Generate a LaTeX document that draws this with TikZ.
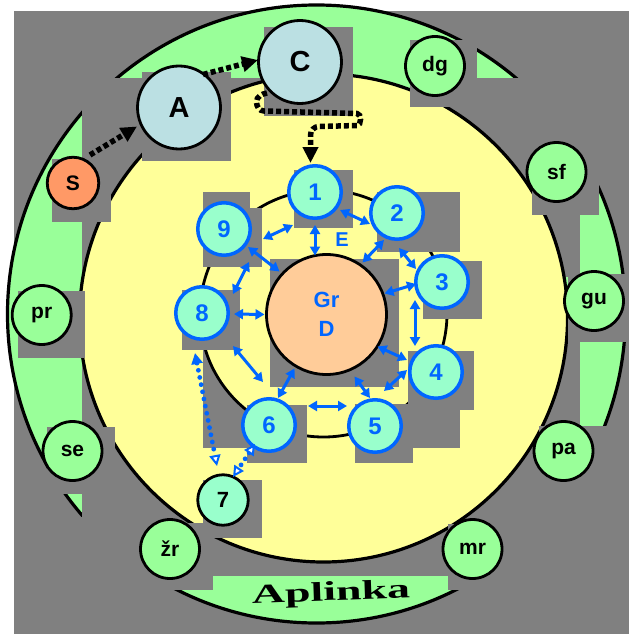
\documentclass[tikz,border=0pt]{standalone}
\usepackage{fontspec}
\setmainfont{Liberation Sans}
\newfontfamily\wideserif{Liberation Serif}
\usetikzlibrary{arrows.meta,calc}
\definecolor{bggray}{RGB}{128,128,128}
\definecolor{ringgreen}{RGB}{153,255,153}
\definecolor{paleyellow}{RGB}{255,255,153}
\definecolor{salmon}{RGB}{255,153,102}
\definecolor{paleblue}{RGB}{187,224,227}
\definecolor{peach}{RGB}{255,204,153}
\definecolor{aqua}{RGB}{153,255,204}
\definecolor{linkblue}{RGB}{0,102,255}
\tikzset{
  opentip/.tip={Triangle[open,length=11pt,width=11pt,fill=white,line width=2pt]},
  solidtip/.tip={Triangle[length=11pt,width=11pt]},
  shadowbox/.style={fill=bggray},
  envnode/.style={circle, draw=black, line width=2.8pt, fill=ringgreen,
    minimum size=59pt, inner sep=0pt, font=\fontsize{21}{21}\selectfont\bfseries},
  bignode/.style={circle, draw=black, line width=2.8pt, fill=paleblue,
    minimum size=83pt, inner sep=0pt, font=\fontsize{29}{29}\selectfont\bfseries},
  stepnode/.style={circle, draw=linkblue, line width=3.5pt, fill=aqua,
    minimum size=52.5pt, inner sep=0pt, text=linkblue,
    font=\fontsize{24}{24}\selectfont\bfseries},
  biarrow/.style={draw=linkblue, line width=3pt,
    {Triangle[length=9pt,width=10pt]}-{Triangle[length=9pt,width=10pt]}},
  dotarrow/.style={draw=linkblue, line width=4.8pt, line cap=round,
    dash pattern=on 0pt off 7.3pt},
  flowarrow/.style={draw=black, line width=5.5pt,
    dash pattern=on 5pt off 3pt, -{Triangle[length=16pt,width=15pt]}},
}
\begin{document}
\begin{tikzpicture}[x=1pt,y=-1pt]
\useasboundingbox (0,0) rectangle (629,634);
\fill[white] (0,0) rectangle (629,634);
\fill[bggray] (14,11) rectangle (629,634);

% environment ring
\filldraw[fill=ringgreen, draw=black, line width=3.2pt] (316.5,314) circle[radius=309];
% grey patches over the ring
\fill[bggray] (82,78) rectangle (264,500);
\fill[bggray] (430,78) rectangle (629,185);
\fill[bggray] (430,185) rectangle (580,277);
\fill[bggray] (430,342) rectangle (580,430);
\fill[bggray] (448,427) rectangle (629,590);
\fill[bggray] (463,590) rectangle (629,634);
\fill[bggray] (82,494) rectangle (213,590);
\fill[bggray] (14,517) rectangle (173,634);
\fill[bggray] (213,500) rectangle (448,576);

% system area
\filldraw[fill=paleyellow, draw=black, line width=3.2pt] (323.5,318) circle[radius=244];
% grey patches under the inner circle
\fill[bggray] (203,345) rectangle (247,448);
\fill[bggray] (413,405) rectangle (460,448);
\filldraw[fill=paleyellow, draw=black, line width=2.8pt] (323.5,313.5) circle[radius=123.5];

% shadows
\fill[shadowbox] (52,159) rectangle (111,222);
\fill[shadowbox] (142,72) rectangle (231,161);
\fill[shadowbox] (264,27) rectangle (353,116);
\fill[shadowbox] (410,40) rectangle (477,107);
\fill[shadowbox] (532,147) rectangle (599,215);
\fill[shadowbox] (568,274) rectangle (629,342);
\fill[shadowbox] (539,426) rectangle (607,492);
\fill[shadowbox] (448,524) rectangle (516,590);
\fill[shadowbox] (144,523) rectangle (213,590);
\fill[shadowbox] (47,427) rectangle (115,494);
\fill[shadowbox] (18,291) rectangle (85,358);
\fill[shadowbox] (203,480) rectangle (262,538);
\fill[shadowbox] (294,170) rectangle (353,228);
\fill[shadowbox] (377,192) rectangle (460,252);
\fill[shadowbox] (423,261) rectangle (482,319);
\fill[shadowbox] (408,351) rectangle (474,410);
\fill[shadowbox] (355,404) rectangle (413,463);
\fill[shadowbox] (247,405) rectangle (307,463);
\fill[shadowbox] (182,290) rectangle (240,350);
\fill[shadowbox] (203,192) rectangle (250,267);
\fill[shadowbox] (250,208) rectangle (262,267);
\fill[shadowbox] (270,259) rectangle (399,387);

% core
\node[circle, draw=black, line width=2.8pt, fill=peach, minimum size=120pt,
  inner sep=0pt, text=linkblue, align=center,
  font=\fontsize{22}{29}\selectfont\bfseries] (gd) at (326.5,314.5) {Gr\\D};
\node[text=linkblue, font=\fontsize{20}{20}\selectfont\bfseries] (e) at (342,239.5) {E};

% environment nodes
\node[envnode] (dg) at (435,66) {dg};
\node[envnode] (sf) at (556.5,172) {sf};
\node[envnode] (gu) at (594,301) {gu};
\node[envnode] (pa) at (563.5,451) {pa};
\node[envnode] (mr) at (472.5,549) {mr};
\node[envnode] (zr) at (170,549) {žr};
\node[envnode] (se) at (72.5,451) {se};
\node[envnode] (pr) at (41.7,315) {pr};

\node[circle, draw=black, line width=2.8pt, fill=salmon, minimum size=51.5pt,
  inner sep=0pt, font=\fontsize{21}{21}\selectfont\bfseries] (s) at (73,183) {S};
\node[bignode] (a) at (179,107.5) {A};
\node[bignode] (c) at (300,62) {C};

% step nodes
\node[stepnode] (n1) at (315,192) {1};
\node[stepnode] (n2) at (397,213) {2};
\node[stepnode] (n3) at (442,282) {3};
\node[stepnode] (n4) at (436,372) {4};
\node[stepnode] (n5) at (375,426) {5};
\node[stepnode] (n6) at (269,425) {6};
\node[stepnode] (n8) at (202,313) {8};
\node[stepnode] (n9) at (224,229) {9};
\node[circle, draw=black, line width=2.8pt, fill=aqua, minimum size=50.5pt,
  inner sep=0pt, font=\fontsize{22}{22}\selectfont\bfseries] (n7) at (223,500) {7};

% label of the environment
\node[rotate=2, font=\wideserif\fontsize{27}{27}\selectfont\bfseries] (env) at (331,594)
  {\scalebox{1.7}[1]{Aplinka}};

% links between steps and core
\draw[biarrow] ($(n1)+(-22,33)$) -- ($(n9)+(39,10)$);
\draw[biarrow] ($(n1)+(0,33)$) -- ($(gd)+(-11.5,-59)$);
\draw[biarrow] ($(n1)+(25,18)$) -- ($(n2)+(-27,11)$);
\draw[biarrow] ($(n2)+(-13,27)$) -- ($(gd)+(36,-52)$);
\draw[biarrow] ($(n2)+(2,35)$) -- ($(n3)+(-26,-13)$);
\draw[biarrow] ($(n3)+(-26,2)$) -- ($(gd)+(58,-21)$);
\draw[biarrow] ($(n3)+(-27,18)$) -- ($(n4)+(-21,-26)$);
\draw[biarrow] ($(n4)+(-29,-12)$) -- ($(gd)+(51,32)$);
\draw[biarrow] ($(n4)+(-29,-2)$) -- ($(n5)+(9,-35)$);
\draw[biarrow] ($(n5)+(-5,-28)$) -- ($(gd)+(28,62)$);
\draw[biarrow] ($(n5)+(-28,-20)$) -- ($(n6)+(39,-19)$);
\draw[biarrow] ($(n6)+(9,-27)$) -- ($(gd)+(-32,54)$);
\draw[biarrow] ($(n6)+(-6,-43)$) -- ($(n8)+(31,33)$);
\draw[biarrow] ($(n8)+(32,1)$) -- ($(gd)+(-62,0)$);
\draw[biarrow] ($(n8)+(31,-19)$) -- ($(n9)+(25,33)$);
\draw[biarrow] ($(n9)+(24,18)$) -- ($(gd)+(-47,-43)$);

% dotted links to step 7
\draw[dotarrow, solidtip-opentip]
  ($(n8)+(-7,40)$) -- ($(n7)+(-6,-34)$);
\draw[dotarrow, opentip-opentip]
  ($(n6)+(-14,19)$) -- ($(n7)+(10,-23)$);

% flow from the source into the system
\draw[flowarrow] ($(s)+(17,-28)$) -- ($(a)+(-42,19)$);
\draw[flowarrow] ($(a)+(24,-33)$) -- ($(c)+(-42,-2)$);
\draw[flowarrow] ($(c)+(-33,31)$) to[out=190,in=90] (256.5,102)
  to[out=-90,in=180] (264,111) -- (357,113.5) to[out=0,in=0] (357,125.5)
  -- (319,126.5) to[out=180,in=90] (310.5,135) -- ($(n1)+(-4.5,-29)$);
\end{tikzpicture}
\end{document}
